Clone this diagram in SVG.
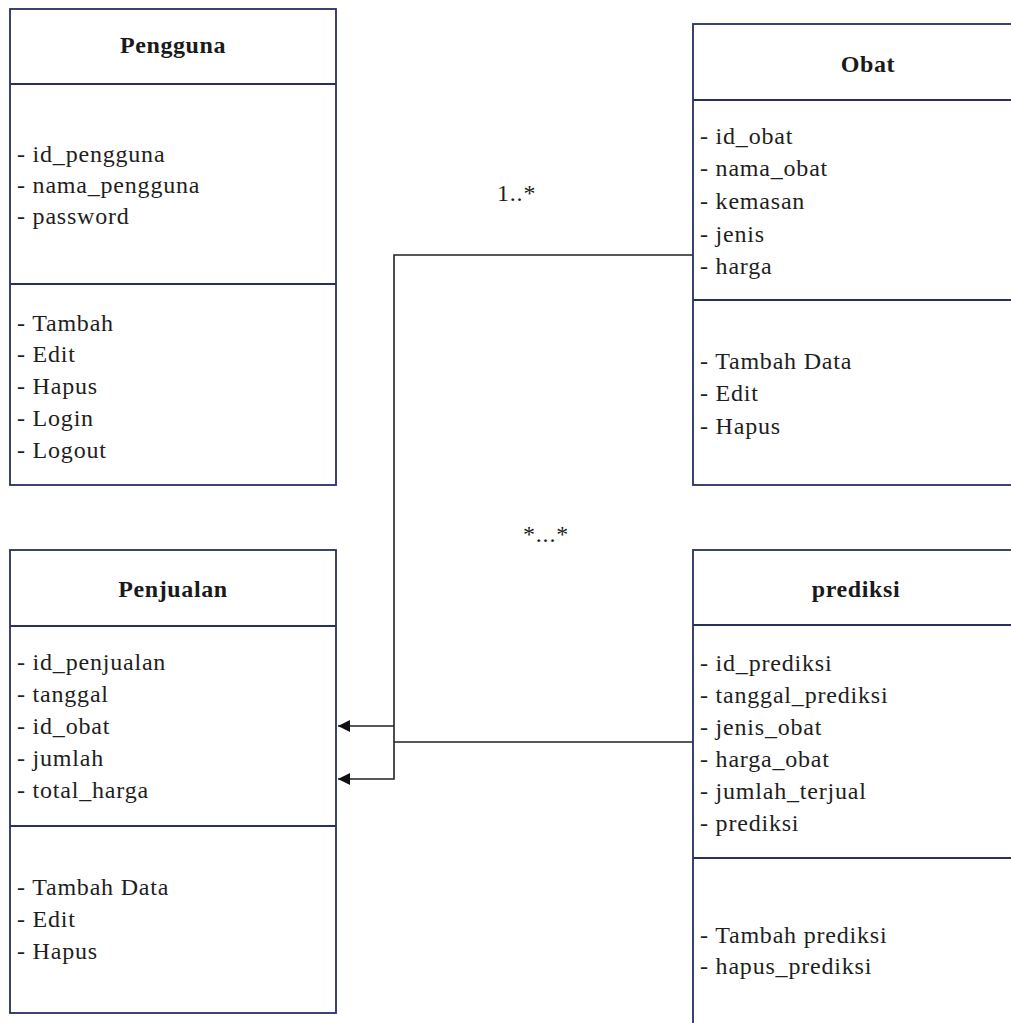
<svg xmlns="http://www.w3.org/2000/svg" width="1011" height="1023" viewBox="0 0 1011 1023">
<defs>
<style>
.box{fill:#fff;stroke:#27305e;stroke-width:1.8}
.div{stroke:#27305e;stroke-width:1.8}
.t{font-family:"Liberation Serif","Times New Roman",serif;font-size:24px;fill:#1e1e1e;letter-spacing:0.8px}
.h{font-family:"Liberation Serif","Times New Roman",serif;font-size:24px;font-weight:bold;fill:#1a1a1a;text-anchor:middle;letter-spacing:0.6px}
.c{fill:none;stroke:#222;stroke-width:1.6}
</style>
<marker id="arr" viewBox="0 0 12 12" refX="12" refY="6" markerWidth="12" markerHeight="12" markerUnits="userSpaceOnUse" orient="auto">
<path d="M0,0 L12,6 L0,12 Z" fill="#111"/>
</marker>
</defs>
<rect width="1011" height="1023" fill="#fff"/>

<g id="connectors">
<polyline class="c" points="693,255 394,255 394,779 338,779" marker-end="url(#arr)"/>
<polyline class="c" points="394,726 338,726" marker-end="url(#arr)"/>
<line class="c" x1="394" y1="742" x2="693" y2="742"/>
<text class="t" x="497" y="201">1..*</text>
<text class="t" x="523" y="542">*...*</text>
</g>

<g id="pengguna">
<rect class="box" x="10" y="9" width="326" height="476"/>
<line class="div" x1="10" y1="84" x2="336" y2="84"/>
<line class="div" x1="10" y1="284" x2="336" y2="284"/>
<text class="h" x="173" y="53">Pengguna</text>
<text class="t" x="17" y="162">- id_pengguna</text>
<text class="t" x="17" y="193">- nama_pengguna</text>
<text class="t" x="17" y="224">- password</text>
<text class="t" x="17" y="331">- Tambah</text>
<text class="t" x="17" y="362">- Edit</text>
<text class="t" x="17" y="394">- Hapus</text>
<text class="t" x="17" y="426">- Login</text>
<text class="t" x="17" y="458">- Logout</text>
</g>

<g id="obat">
<rect class="box" x="693" y="24" width="350" height="461"/>
<line class="div" x1="693" y1="100" x2="1043" y2="100"/>
<line class="div" x1="693" y1="300" x2="1043" y2="300"/>
<text class="h" x="868" y="72">Obat</text>
<text class="t" x="700" y="144">- id_obat</text>
<text class="t" x="700" y="176">- nama_obat</text>
<text class="t" x="700" y="209">- kemasan</text>
<text class="t" x="700" y="242">- jenis</text>
<text class="t" x="700" y="274">- harga</text>
<text class="t" x="700" y="369">- Tambah Data</text>
<text class="t" x="700" y="401">- Edit</text>
<text class="t" x="700" y="434">- Hapus</text>
</g>

<g id="penjualan">
<rect class="box" x="10" y="550" width="326" height="463"/>
<line class="div" x1="10" y1="626" x2="336" y2="626"/>
<line class="div" x1="10" y1="826" x2="336" y2="826"/>
<text class="h" x="173" y="597">Penjualan</text>
<text class="t" x="17" y="670">- id_penjualan</text>
<text class="t" x="17" y="702">- tanggal</text>
<text class="t" x="17" y="734">- id_obat</text>
<text class="t" x="17" y="766">- jumlah</text>
<text class="t" x="17" y="798">- total_harga</text>
<text class="t" x="17" y="895">- Tambah Data</text>
<text class="t" x="17" y="927">- Edit</text>
<text class="t" x="17" y="959">- Hapus</text>
</g>

<g id="prediksi">
<rect class="box" x="693" y="550" width="350" height="490"/>
<line class="div" x1="693" y1="625" x2="1043" y2="625"/>
<line class="div" x1="693" y1="858" x2="1043" y2="858"/>
<text class="h" x="856" y="597">prediksi</text>
<text class="t" x="700" y="671">- id_prediksi</text>
<text class="t" x="700" y="703">- tanggal_prediksi</text>
<text class="t" x="700" y="735">- jenis_obat</text>
<text class="t" x="700" y="767">- harga_obat</text>
<text class="t" x="700" y="799">- jumlah_terjual</text>
<text class="t" x="700" y="831">- prediksi</text>
<text class="t" x="700" y="943">- Tambah prediksi</text>
<text class="t" x="700" y="974">- hapus_prediksi</text>
</g>
</svg>
